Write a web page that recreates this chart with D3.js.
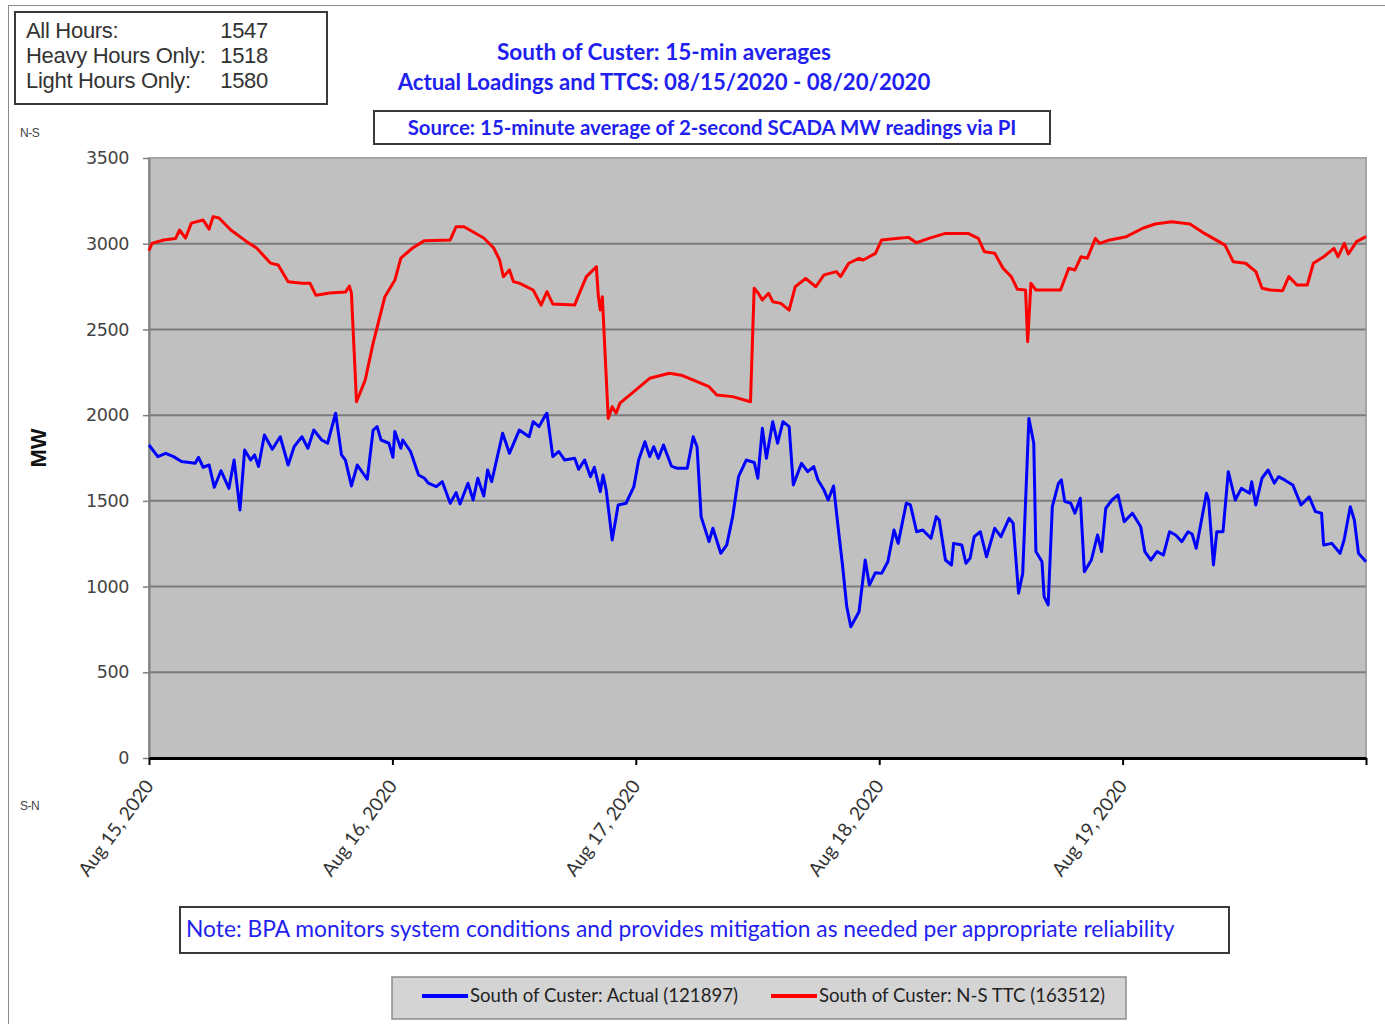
<!DOCTYPE html>
<html>
<head>
<meta charset="utf-8">
<script src="https://cdn.jsdelivr.net/npm/d3@7"></script>
<style>
  body { margin: 0; background: #fff; }
</style>
</head>
<body>
<div id="chartArea"></div>
<script>
// hours after 08/15/2020 00:00
const ttcHours = [0, 0.29, 1.45, 2.62, 3.01, 3.60, 4.18, 5.34, 5.93, 6.32,
  6.90, 8.07, 9.63, 10.61, 11.97, 12.74, 13.72, 15.08, 15.87, 16.45,
  17.81, 19.37, 19.76, 19.96, 20.46, 21.32, 22.10, 23.26, 24.25, 24.83,
  25.99, 27.16, 29.70, 30.28, 31.06, 33.01, 33.99, 34.57, 34.95, 35.54,
  35.93, 36.51, 37.88, 38.66, 39.24, 39.82, 41.97, 42.36, 43.13, 44.11,
  44.31, 44.50, 44.70, 45.28, 45.67, 46.06, 46.44, 47.81, 49.37, 51.31,
  52.49, 55.22, 55.99, 57.55, 59.31, 59.67, 60.08, 60.48, 61.09, 61.50,
  62.31, 63.12, 63.72, 64.54, 64.74, 65.75, 66.56, 67.78, 68.19, 69.00,
  70.01, 70.42, 71.63, 72.24, 73.66, 74.88, 75.69, 76.90, 78.53, 80.76,
  81.77, 82.38, 83.39, 84.21, 85.02, 85.63, 86.43, 86.64, 86.96, 87.45,
  89.88, 90.69, 91.30, 91.91, 92.52, 93.32, 93.73, 94.74, 96.37, 97.99,
  99.21, 100.83, 102.65, 104.07, 106.10, 106.91, 108.13, 109.14, 109.75, 110.56,
  111.78, 112.39, 113.19, 114.21, 114.81, 115.83, 116.84, 117.25, 117.86, 118.26,
  119.07, 120];
const ttcMW = [2960, 3002, 3022, 3030, 3080, 3033, 3120, 3138, 3085, 3158,
  3150, 3080, 3012, 2975, 2887, 2876, 2778, 2770, 2770, 2700,
  2712, 2718, 2753, 2712, 2078, 2205, 2420, 2691, 2788, 2916,
  2975, 3018, 3022, 3099, 3099, 3033, 2975, 2905, 2808, 2847,
  2779, 2770, 2730, 2642, 2720, 2648, 2642, 2700, 2808, 2866,
  2691, 2613, 2691, 1981, 2049, 2012, 2070, 2137, 2215, 2244,
  2233, 2166, 2118, 2108, 2078, 2740, 2711, 2672, 2711, 2662,
  2652, 2613, 2749, 2788, 2798, 2749, 2818, 2837, 2808, 2886,
  2915, 2905, 2944, 3022, 3031, 3037, 3006, 3031, 3060, 3060,
  3031, 2953, 2944, 2857, 2808, 2734, 2730, 2428, 2769, 2730,
  2730, 2857, 2847, 2924, 2915, 3031, 3002, 3022, 3041, 3090,
  3115, 3128, 3115, 3060, 2992, 2895, 2886, 2837, 2740, 2730,
  2726, 2808, 2759, 2759, 2886, 2924, 2973, 2924, 3002, 2940,
  3012, 3041];

const actualHours = [0, 0.87, 1.65, 2.42, 3.20, 4.56, 4.88, 5.34, 5.93, 6.44,
  7.10, 7.88, 8.39, 8.97, 9.43, 10.02, 10.41, 10.80, 11.38, 12.16,
  12.94, 13.72, 14.31, 15.08, 15.67, 16.25, 17.03, 17.61, 18.40, 18.98,
  19.37, 19.96, 20.54, 21.52, 22.10, 22.49, 22.88, 23.66, 24.05, 24.24,
  24.83, 25.02, 25.79, 26.58, 27.16, 27.55, 28.33, 28.92, 29.70, 30.28,
  30.67, 31.45, 31.96, 32.42, 33.01, 33.39, 33.79, 34.87, 35.54, 36.51,
  37.48, 37.88, 38.46, 39.04, 39.24, 39.82, 40.41, 40.99, 41.97, 42.36,
  42.95, 43.53, 43.91, 44.50, 44.77, 45.08, 45.67, 46.26, 47.04, 47.81,
  48.28, 48.90, 49.37, 49.76, 50.23, 50.73, 51.51, 52.09, 53.07, 53.66,
  54.04, 54.44, 55.22, 55.60, 56.38, 56.97, 57.55, 58.13, 58.89, 59.68,
  60.03, 60.48, 60.88, 61.50, 61.98, 62.51, 63.12, 63.53, 64.34, 64.95,
  65.55, 65.96, 66.56, 66.97, 67.50, 67.98, 68.38, 68.80, 69.20, 70.01,
  70.62, 71.03, 71.63, 72.24, 72.85, 73.46, 73.87, 74.67, 75.08, 75.69,
  76.29, 77.11, 77.63, 77.92, 78.53, 79.13, 79.34, 80.14, 80.55, 80.96,
  81.37, 81.97, 82.58, 83.39, 84.00, 84.81, 85.21, 85.74, 86.15, 86.76,
  87.24, 87.45, 88.05, 88.26, 88.66, 89.07, 89.68, 89.96, 90.29, 90.89,
  91.30, 91.83, 92.23, 92.92, 93.53, 93.93, 94.34, 94.95, 95.55, 96.16,
  96.97, 97.79, 98.19, 98.79, 99.40, 100.02, 100.63, 101.23, 101.84, 102.45,
  102.85, 103.26, 103.66, 104.27, 104.48, 104.96, 105.29, 105.90, 106.42, 107.11,
  107.71, 108.53, 108.73, 109.13, 109.74, 110.35, 110.96, 111.37, 111.97, 112.78,
  113.59, 114.40, 115.01, 115.62, 115.82, 116.63, 117.44, 117.84, 118.45, 118.85,
  119.26, 120];
const actualMW = [1826, 1758, 1777, 1758, 1729, 1719, 1754, 1696, 1709, 1579,
  1676, 1573, 1738, 1447, 1797, 1738, 1768, 1700, 1884, 1801,
  1874, 1709, 1816, 1874, 1807, 1913, 1855, 1836, 2011, 1768,
  1738, 1587, 1709, 1626, 1913, 1933, 1855, 1836, 1754, 1905,
  1807, 1855, 1788, 1651, 1632, 1603, 1583, 1612, 1486, 1548,
  1482, 1603, 1505, 1632, 1528, 1680, 1612, 1894, 1777, 1913,
  1874, 1962, 1933, 1995, 2011, 1758, 1788, 1738, 1748, 1684,
  1738, 1641, 1696, 1554, 1651, 1563, 1272, 1476, 1486, 1583,
  1738, 1845, 1758, 1816, 1748, 1826, 1703, 1690, 1690, 1874,
  1816, 1408, 1262, 1340, 1194, 1243, 1408, 1641, 1738, 1724,
  1632, 1923, 1748, 1962, 1836, 1962, 1933, 1593, 1719, 1670,
  1700, 1622, 1563, 1505, 1587, 1330, 1126, 883, 766, 853,
  1155, 1009, 1081, 1077, 1145, 1330, 1252, 1486, 1476, 1320,
  1330, 1282, 1408, 1388, 1155, 1126, 1252, 1243, 1136, 1165,
  1291, 1320, 1174, 1340, 1291, 1398, 1369, 961, 1077, 1981,
  1836, 1204, 1145, 941, 893, 1466, 1603, 1622, 1497, 1486,
  1428, 1515, 1087, 1155, 1301, 1204, 1457, 1505, 1534, 1379,
  1428, 1349, 1204, 1155, 1204, 1184, 1320, 1301, 1262, 1320,
  1307, 1223, 1349, 1544, 1505, 1126, 1320, 1320, 1670, 1505,
  1573, 1544, 1612, 1476, 1632, 1680, 1603, 1641, 1622, 1593,
  1476, 1524, 1437, 1428, 1243, 1252, 1194, 1272, 1466, 1388,
  1194, 1145];

const yTicks = [0, 500, 1000, 1500, 2000, 2500, 3000, 3500];
const dayTicks = ["2020-08-15", "2020-08-16", "2020-08-17", "2020-08-18", "2020-08-19", "2020-08-20"];

const statLabels = ["All Hours:", "Heavy Hours Only:", "Light Hours Only:"];
const statValues = ["1547", "1518", "1580"];
const titleLines = ["South of Custer: 15-min averages", "Actual Loadings and TTCS: 08/15/2020 - 08/20/2020"];
const sourceText = "Source: 15-minute average of 2-second SCADA MW readings via PI";
const noteText = "Note: BPA monitors system conditions and provides mitigation as needed per appropriate reliability";
const legendNames = ["South of Custer: Actual (121897)", "South of Custer: N-S TTC (163512)"];
const legendColors = ["#0000ff", "#ff0000"];

const blue = "#1f1fef";
const calibri = "Lato, 'Open Sans', sans-serif";
const arial = "'Liberation Sans', Arial, sans-serif";

const svg = d3.select("#chartArea").append("svg")
  .attr("width", 1385)
  .attr("height", 1024);

const plot = { left: 149, right: 1366, top: 158, bottom: 758 };

const parseDay = d3.timeParse("%Y-%m-%d");
const start = parseDay(dayTicks[0]);
const toDate = h => new Date(start.getTime() + h * 3600000);

const x = d3.scaleTime()
  .domain([start, parseDay(dayTicks[dayTicks.length - 1])])
  .range([plot.left, plot.right]);
const y = d3.scaleLinear().domain([0, 3500]).range([plot.bottom, plot.top]);

// outer frame of the picture
svg.append("rect")
  .attr("x", 8.5).attr("y", 5.5)
  .attr("width", 1400).attr("height", 1040)
  .attr("fill", "none").attr("stroke", "#8a8a8a");

// stats box
svg.append("rect")
  .attr("x", 15).attr("y", 12).attr("width", 312).attr("height", 92)
  .attr("fill", "#fff").attr("stroke", "#3a3a3a").attr("stroke-width", 2);
statLabels.forEach((s, i) => {
  svg.append("text").attr("x", 26).attr("y", 38 + i * 25)
    .attr("font-family", arial).attr("font-size", 22).attr("fill", "#333")
    .attr("letter-spacing", -0.3)
    .text(s);
  svg.append("text").attr("x", 268).attr("y", 38 + i * 25)
    .attr("text-anchor", "end")
    .attr("font-family", arial).attr("font-size", 22).attr("fill", "#333")
    .attr("letter-spacing", -0.3)
    .text(statValues[i]);
});

// titles
titleLines.forEach((t, i) => {
  svg.append("text").attr("x", 664).attr("y", 60 + i * 30)
    .attr("text-anchor", "middle")
    .attr("font-family", calibri).attr("font-weight", 700).attr("font-size", i ? 22.2 : 22.6)
    .attr("fill", blue)
    .text(t);
});

svg.append("rect")
  .attr("x", 374).attr("y", 111).attr("width", 676).attr("height", 33)
  .attr("fill", "#fff").attr("stroke", "#3a3a3a").attr("stroke-width", 2);
svg.append("text").attr("x", 712).attr("y", 135)
  .attr("text-anchor", "middle")
  .attr("font-family", calibri).attr("font-weight", 700).attr("font-size", 20.4)
  .attr("fill", blue)
  .text(sourceText);

// plot background + grid
svg.append("rect")
  .attr("x", plot.left).attr("y", plot.top)
  .attr("width", plot.right - plot.left).attr("height", plot.bottom - plot.top)
  .attr("fill", "#c0c0c0").attr("stroke", "#a6a6a6").attr("stroke-width", 2);

svg.append("g").selectAll("line")
  .data(yTicks.filter(v => v > 0 && v < 3500))
  .enter().append("line")
  .attr("x1", plot.left).attr("x2", plot.right)
  .attr("y1", d => y(d)).attr("y2", d => y(d))
  .attr("stroke", "#7c7c7c").attr("stroke-width", 2);

// y axis
const yAxis = svg.append("g")
  .attr("transform", `translate(${plot.left},0)`)
  .call(d3.axisLeft(y).tickValues(yTicks).tickFormat(d3.format("d"))
    .tickSize(6).tickSizeOuter(0).tickPadding(14));
yAxis.select(".domain").attr("stroke", "#808080").attr("stroke-width", 2);
yAxis.selectAll(".tick line").attr("stroke", "#808080").attr("stroke-width", 1.5);
yAxis.selectAll("text")
  .attr("font-family", "'DejaVu Sans', sans-serif").attr("font-size", 17.5).attr("fill", "#444")
  .attr("letter-spacing", -0.4);

// x axis
const fmt = d3.timeFormat("%b %-d, %Y");
const xAxis = svg.append("g")
  .attr("transform", `translate(0,${plot.bottom})`)
  .call(d3.axisBottom(x)
    .tickValues(dayTicks.map(parseDay))
    .tickSize(7).tickSizeOuter(0)
    .tickFormat((d, i) => i < dayTicks.length - 1 ? fmt(d) : ""));
xAxis.select(".domain").attr("stroke", "#000").attr("stroke-width", 3);
xAxis.selectAll(".tick line").attr("stroke", "#000").attr("stroke-width", 2);
xAxis.selectAll("text")
  .attr("x", 0).attr("y", 0).attr("dy", 0)
  .attr("text-anchor", "end")
  .attr("transform", "translate(5,28) rotate(-54)")
  .attr("font-family", calibri).attr("font-size", 19).attr("fill", "#333");

// axis side labels
svg.append("text").attr("x", 20).attr("y", 137)
  .attr("font-family", arial).attr("font-size", 12).attr("fill", "#444").attr("letter-spacing", -0.5)
  .text("N-S");
svg.append("text").attr("x", 20).attr("y", 810)
  .attr("font-family", arial).attr("font-size", 12).attr("fill", "#444").attr("letter-spacing", -0.5)
  .text("S-N");
svg.append("text")
  .attr("transform", "translate(46,448) rotate(-90)")
  .attr("text-anchor", "middle")
  .attr("font-family", arial).attr("font-weight", 700).attr("font-size", 22).attr("fill", "#111")
  .text("MW");

// series
const line = d3.line().x(d => x(d.t)).y(d => y(d.v));
const ttc = ttcHours.map((h, i) => ({ t: toDate(h), v: ttcMW[i] }));
const actual = actualHours.map((h, i) => ({ t: toDate(h), v: actualMW[i] }));

svg.append("path").datum(ttc)
  .attr("d", line).attr("fill", "none")
  .attr("stroke", legendColors[1]).attr("stroke-width", 3).attr("stroke-linejoin", "round");
svg.append("path").datum(actual)
  .attr("d", line).attr("fill", "none")
  .attr("stroke", legendColors[0]).attr("stroke-width", 3).attr("stroke-linejoin", "round");

// note
svg.append("rect")
  .attr("x", 180).attr("y", 907).attr("width", 1049).attr("height", 46)
  .attr("fill", "#fff").attr("stroke", "#3a3a3a").attr("stroke-width", 2);
svg.append("text").attr("x", 186).attr("y", 937)
  .attr("font-family", calibri).attr("font-size", 22.8).attr("fill", blue)
  .text(noteText);

// legend
svg.append("rect")
  .attr("x", 392).attr("y", 977).attr("width", 734).attr("height", 42)
  .attr("fill", "#d4d4d4").attr("stroke", "#8c8c8c").attr("stroke-width", 1.5);
const legendX = [422, 771];
legendNames.forEach((name, i) => {
  svg.append("line")
    .attr("x1", legendX[i]).attr("x2", legendX[i] + 46)
    .attr("y1", 996).attr("y2", 996)
    .attr("stroke", legendColors[i]).attr("stroke-width", 4);
  svg.append("text").attr("x", legendX[i] + 48).attr("y", 1002)
    .attr("font-family", calibri).attr("font-size", 18.6).attr("fill", "#222")
    .text(name);
});
</script>
</body>
</html>
